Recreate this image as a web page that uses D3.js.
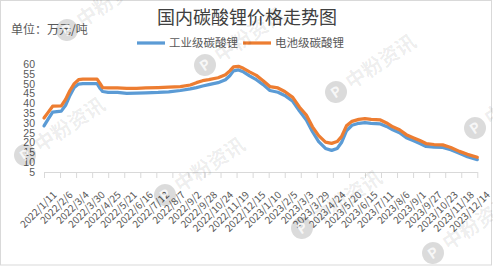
<!DOCTYPE html>
<html>
<head>
<meta charset="utf-8">
<script src="https://cdn.jsdelivr.net/npm/d3@7/dist/d3.min.js"></script>
<style>
  body { margin: 0; background: #fff; }
  svg { display: block; font-family: "Microsoft YaHei", "Noto Sans CJK SC", "Noto Sans", sans-serif; }
</style>
</head>
<body>
<div class="chart-container"></div>
<script>
// data
const dates = [
  '2022-01-11', '2022-01-18', '2022-01-25', '2022-02-08', '2022-02-15', '2022-02-22',
  '2022-03-01', '2022-03-08', '2022-03-15', '2022-04-07', '2022-04-12', '2022-04-16',
  '2022-04-25', '2022-05-10', '2022-05-25', '2022-06-10', '2022-06-25', '2022-07-15',
  '2022-08-01', '2022-08-20', '2022-09-05', '2022-09-15', '2022-09-25', '2022-10-05',
  '2022-10-20', '2022-11-01', '2022-11-08', '2022-11-14', '2022-11-22', '2022-11-30',
  '2022-12-10', '2022-12-21', '2023-01-01', '2023-01-12', '2023-01-25', '2023-02-05',
  '2023-02-18', '2023-03-01', '2023-03-12', '2023-03-22', '2023-04-01', '2023-04-12',
  '2023-04-22', '2023-05-01', '2023-05-08', '2023-05-16', '2023-05-25', '2023-06-05',
  '2023-06-15', '2023-06-25', '2023-07-10', '2023-07-20', '2023-07-30', '2023-08-10',
  '2023-08-21', '2023-09-01', '2023-09-12', '2023-09-22', '2023-10-05', '2023-10-19',
  '2023-11-01', '2023-11-15', '2023-11-28', '2023-12-14'
];

// 工业级碳酸锂
const industrial = [
  28.5, 32, 35.5, 36, 39, 44,
  48, 49.8, 50, 50, 47.5, 46,
  45.6, 45.5, 45, 45.2, 45.3, 45.5,
  45.8, 46.5, 47.3, 48, 48.8, 49.5,
  50.5, 52, 54, 56.5, 57, 56,
  54, 52, 49.5, 46.5, 45.6, 44,
  41, 36, 31.5, 25.5, 20.5, 17,
  16, 17, 20, 26, 28.8, 29.8,
  30.2, 29.8, 29.5, 28.2, 26.5, 25,
  22.5, 21, 19.5, 18, 17.7, 17.5,
  16.3, 14.5, 12.8, 11.3
];

// 电池级碳酸锂
const battery = [
  32.5, 35.5, 38.5, 38.7, 42, 46.5,
  50, 52, 52.3, 52.3, 50, 48,
  47.8, 47.8, 47.6, 47.6, 47.8, 48,
  48.2, 48.5, 49.3, 50.5, 51.5, 52,
  53, 54.5, 56.5, 58.5, 58.8, 57.8,
  56, 54.2, 51.5, 48.5, 47.8, 46,
  43, 38, 34, 28, 23.5, 20.2,
  19.6, 20.5, 23, 28.5, 30.8, 31.8,
  32.2, 31.8, 31.5, 30, 28, 26.5,
  24, 22.5, 21, 19.5, 19, 18.8,
  17.5, 15.5, 14, 12.5
];

const seriesNames = ['工业级碳酸锂', '电池级碳酸锂'];

const xTickLabels = [
  '2022/1/11', '2022/2/6', '2022/3/4', '2022/3/30', '2022/4/25', '2022/5/21', '2022/6/16',
  '2022/7/12', '2022/8/7', '2022/9/2', '2022/9/28', '2022/10/24', '2022/11/19', '2022/12/15',
  '2023/1/10', '2023/2/5', '2023/3/3', '2023/3/29', '2023/4/24', '2023/5/20', '2023/6/15',
  '2023/7/11', '2023/8/6', '2023/9/1', '2023/9/27', '2023/10/23', '2023/11/18', '2023/12/14'
];

const yTicks = [5, 10, 15, 20, 25, 30, 35, 40, 45, 50, 55, 60];

// utilities
const parseDate = d3.timeParse('%Y-%m-%d');
const parseLabel = d3.timeParse('%Y/%-m/%-d');

const W = 493;
const H = 266;
const colors = ['#5B9BD5', '#ED7D31'];

const svg = d3.select('.chart-container')
  .append('svg')
  .attr('width', W)
  .attr('height', H);

// chart border
svg.append('rect')
  .attr('x', 0.5).attr('y', 0.5)
  .attr('width', W - 2).attr('height', H - 1.5)
  .attr('fill', '#fff')
  .attr('stroke', '#d9d9d9');

// scales
const xScale = d3.scaleTime()
  .domain([parseLabel(xTickLabels[0]), parseLabel(xTickLabels[xTickLabels.length - 1])])
  .range([44, 477.3]);

const yScale = d3.scaleLinear()
  .domain([5, 60])
  .range([172, 64]);

// header
svg.append('text')
  .attr('x', 247).attr('y', 18)
  .attr('dy', '0.35em')
  .attr('text-anchor', 'middle')
  .attr('font-size', 18)
  .attr('fill', '#404040')
  .text('国内碳酸锂价格走势图');

svg.append('text')
  .attr('x', 11).attr('y', 30)
  .attr('dy', '0.35em')
  .attr('font-size', 12)
  .attr('fill', '#595959')
  .text('单位：万元/吨');

// legend
const legendX = [137, 243];
const legend = svg.append('g').attr('class', 'legend');
seriesNames.forEach((name, i) => {
  legend.append('line')
    .attr('x1', legendX[i]).attr('x2', legendX[i] + 28)
    .attr('y1', 43).attr('y2', 43)
    .attr('stroke', colors[i])
    .attr('stroke-width', 3.25);
  legend.append('text')
    .attr('x', legendX[i] + 32).attr('y', 43)
    .attr('dy', '0.35em')
    .attr('font-size', 11.5)
    .attr('fill', '#595959')
    .text(name);
});

// x axis
const xAxis = d3.axisBottom(xScale)
  .tickValues(xTickLabels.map(parseLabel))
  .tickFormat('')
  .tickSizeInner(6)
  .tickSizeOuter(0);

const xAxisDraw = svg.append('g')
  .attr('class', 'x axis')
  .attr('transform', `translate(0, ${yScale(5)})`)
  .call(xAxis);

xAxisDraw.select('.domain').attr('stroke', '#d9d9d9');
xAxisDraw.selectAll('.tick line').attr('stroke', '#d9d9d9');

svg.append('g')
  .attr('class', 'x labels')
  .selectAll('text')
  .data(xTickLabels)
  .enter()
  .append('text')
    .attr('transform', d => `translate(${xScale(parseLabel(d)) + 11}, ${yScale(5) + 21}) rotate(-45)`)
    .attr('text-anchor', 'end')
    .attr('dy', '0.35em')
    .attr('font-size', 10)
    .attr('fill', '#595959')
    .text(d => d);

// y axis (labels only)
const yAxis = d3.axisLeft(yScale)
  .tickValues(yTicks)
  .tickSize(0)
  .tickPadding(0);

const yAxisDraw = svg.append('g')
  .attr('class', 'y axis')
  .attr('transform', 'translate(35, 0)')
  .call(yAxis);

yAxisDraw.select('.domain').remove();
yAxisDraw.selectAll('text')
  .attr('font-size', 10.5)
  .attr('font-family', 'inherit')
  .attr('fill', '#595959');

// lines
const line = d3.line()
  .x(d => xScale(d.date))
  .y(d => yScale(d.value));

[industrial, battery].forEach((values, i) => {
  const points = values.map((v, j) => ({ date: parseDate(dates[j]), value: v }));
  svg.append('path')
    .datum(points)
    .attr('fill', 'none')
    .attr('stroke', colors[i])
    .attr('stroke-width', 3.25)
    .attr('stroke-linejoin', 'round')
    .attr('stroke-linecap', 'round')
    .attr('d', line);
});

// watermarks (faint logo + brand text)
const marks = [[67, 30], [205, 65], [336, 92], [475, 128], [25, 155], [165, 195], [302, 228], [433, 253]];
marks.forEach(([x, y]) => {
  const g = svg.append('g')
    .attr('transform', `translate(${x}, ${y}) rotate(-34)`)
    .attr('pointer-events', 'none');
  g.append('circle')
    .attr('r', 11)
    .attr('fill', '#000')
    .attr('fill-opacity', 0.14);
  g.append('text')
    .attr('text-anchor', 'middle')
    .attr('dy', '0.36em')
    .attr('font-size', 14)
    .attr('font-weight', 'bold')
    .attr('fill', '#fff')
    .attr('fill-opacity', 0.8)
    .text('P');
  g.append('text')
    .attr('x', 14).attr('dy', '0.35em')
    .attr('font-size', 20)
    .attr('font-weight', 'bold')
    .attr('fill', '#000')
    .attr('fill-opacity', 0.08)
    .text('中粉资讯');
});
</script>
</body>
</html>
